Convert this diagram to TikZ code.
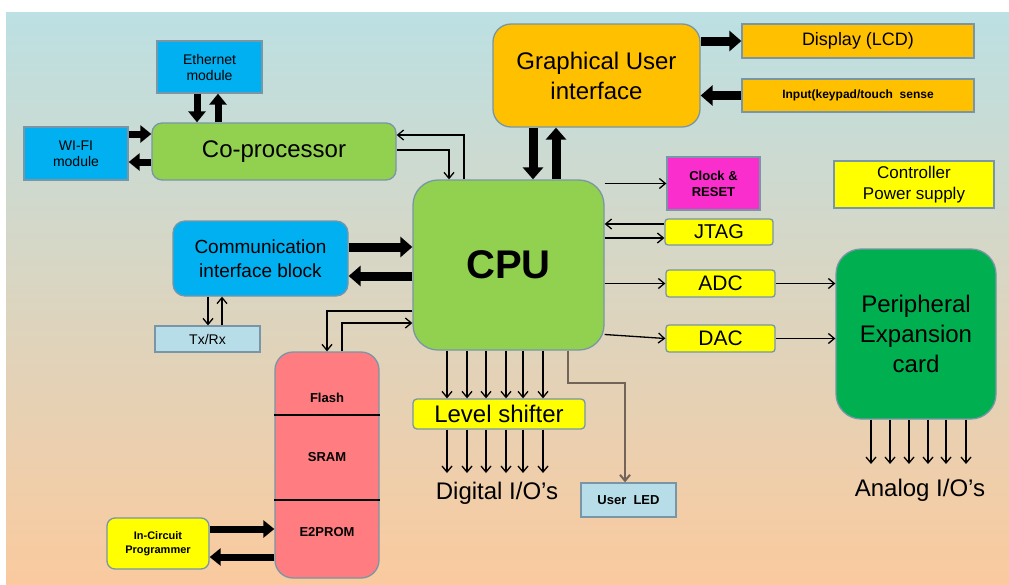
\documentclass[tikz,border=0pt]{standalone}
\usepackage{fontspec}
\setmainfont{Liberation Sans}
\usetikzlibrary{arrows.meta,calc}
\definecolor{bgtop}{RGB}{188,224,227}
\definecolor{bgmid}{RGB}{220,218,204}
\definecolor{bgbot}{RGB}{250,202,158}
\definecolor{bord}{RGB}{120,150,165}
\definecolor{cblue}{RGB}{0,176,240}
\definecolor{cgreen}{RGB}{146,208,80}
\definecolor{dgreen}{RGB}{0,176,80}
\definecolor{corange}{RGB}{255,192,0}
\definecolor{cyellow}{RGB}{255,255,0}
\definecolor{cmag}{RGB}{250,45,205}
\definecolor{cpink}{RGB}{255,124,128}
\definecolor{lblue}{RGB}{183,222,232}
\definecolor{ledline}{RGB}{115,100,90}
\newcommand\fsz[2]{\fontsize{#1pt}{#2pt}\selectfont}
\tikzset{
  box/.style={draw=bord, line width=1.3pt, align=center, inner sep=0pt, text=black},
  bigarrow/.style={line width=7pt, -{Triangle[length=11pt,width=17pt]}},
  hugearrow/.style={line width=9pt, -{Triangle[length=12pt,width=20pt]}},
  thinarrow/.style={line width=1.3pt, -{Straight Barb[length=6pt,width=10pt]}},
  lbl/.style={inner sep=0pt, text=black}
}
\begin{document}
\begin{tikzpicture}[x=1pt,y=-1pt]
\useasboundingbox (0,0) rectangle (1009,584);
\shade[top color=bgtop, middle color=bgmid, bottom color=bgbot] (6,12) rectangle (1009,584);

% nodes
\node[box, fill=cblue, minimum width=105pt, minimum height=52pt, font=\fsz{14}{16}] (eth) at (209.5,67) {Ethernet\\module};
\node[box, fill=cblue, minimum width=104pt, minimum height=53pt, font=\fsz{14}{16}] (wifi) at (76,153.5) {WI-FI\\module};
\node[box, fill=cgreen, rounded corners=10pt, minimum width=244pt, minimum height=57pt, font=\fsz{24}{28}] (cop) at (274,151.5) {Co-processor};
\node[box, fill=corange, rounded corners=18pt, minimum width=207pt, minimum height=103pt, font=\fsz{24}{30}] (gui) at (596.5,75.5) {Graphical User\\interface};
\node[box, fill=corange, minimum width=232pt, minimum height=34pt, font=\fsz{18}{20}] (lcd) at (858,41) {Display (LCD)};
\node[box, fill=corange, minimum width=232pt, minimum height=33pt, font=\fsz{12}{14}\bfseries] (inp) at (858,95.5) {Input(keypad/touch\ \ sense};
\node[box, fill=cgreen, rounded corners=25pt, minimum width=191pt, minimum height=170pt, font=\fsz{40}{44}\bfseries] (cpu) at (508.5,265) {CPU};
\node[box, fill=cmag, minimum width=93pt, minimum height=53pt, font=\fsz{13}{16}\bfseries] (clk) at (713.5,183.5) {Clock \&\\RESET};
\node[box, fill=cyellow, rounded corners=3pt, minimum width=108pt, minimum height=26pt, font=\fsz{20}{22}] (jtag) at (719,232) {JTAG};
\node[box, fill=cyellow, minimum width=160pt, minimum height=47pt, font=\fsz{17}{21}] (pwr) at (914,184.5) {Controller\\Power supply};
\node[box, fill=cyellow, rounded corners=3pt, minimum width=109pt, minimum height=27pt, font=\fsz{21}{23}] (adc) at (720.5,283.5) {ADC};
\node[box, fill=cyellow, rounded corners=3pt, minimum width=109pt, minimum height=27pt, font=\fsz{21}{23}] (dac) at (720.5,338.5) {DAC};
\node[box, fill=dgreen, rounded corners=25pt, minimum width=160pt, minimum height=170pt, font=\fsz{24}{30}] (per) at (916,334) {Peripheral\\Expansion\\card};
\node[box, fill=cblue, rounded corners=12pt, minimum width=175pt, minimum height=75pt, font=\fsz{19}{24}] (com) at (260.5,258.5) {Communication\\interface block};
\node[box, fill=lblue, minimum width=105pt, minimum height=26pt, font=\fsz{14}{16}] (txrx) at (207.5,339) {Tx/Rx};
\node[box, fill=cpink, rounded corners=18pt, minimum width=104pt, minimum height=226pt] (mem) at (327,465) {};
\draw[line width=1.8pt] (mem.west |- 0,415) -- (mem.east |- 0,415);
\draw[line width=1.8pt] (mem.west |- 0,500) -- (mem.east |- 0,500);
\node[lbl, font=\fsz{13}{15}\bfseries] (flash) at (327,398) {Flash};
\node[lbl, font=\fsz{13}{15}\bfseries] (sram) at (327,457) {SRAM};
\node[lbl, font=\fsz{13}{15}\bfseries] (eprom) at (327,532) {E2PROM};
\node[box, fill=cyellow, rounded corners=8pt, minimum width=102pt, minimum height=51pt, font=\fsz{11}{14}\bfseries] (icp) at (158,543.5) {In-Circuit\\Programmer};
\node[box, fill=cyellow, rounded corners=4pt, minimum width=172pt, minimum height=30pt, font=\fsz{24}{26}] (lvl) at (499,414) {Level shifter};
\node[box, fill=lblue, minimum width=95pt, minimum height=34pt, font=\fsz{13}{15}\bfseries] (led) at (628.5,500) {User\ \ LED};
\node[lbl, font=\fsz{24}{26}] (dig) at (497,493) {Digital I/O’s};
\node[lbl, font=\fsz{24}{26}] (ana) at (920,490) {Analog I/O’s};
\coordinate (dio) at (497,473);
\coordinate (aio) at (920,464);

% thick connectors
\draw[bigarrow] ([xshift=-12.5pt]eth.south) -- ([xshift=-12.5pt]eth.south |- cop.north);
\draw[bigarrow] ([xshift=8.5pt]eth.south |- cop.north) -- ([xshift=8.5pt]eth.south);
\draw[bigarrow] ([yshift=19.5pt]wifi.east) -- ([yshift=19.5pt]wifi.east -| cop.west);
\draw[bigarrow] ([yshift=-8.5pt]wifi.east -| cop.west) -- ([yshift=-8.5pt]wifi.east);
\draw[hugearrow] (gui.east |- lcd.west) -- (lcd.west);
\draw[hugearrow] (inp.west) -- (inp.west -| gui.east);
\draw[hugearrow] ([xshift=-63.5pt]gui.south) -- ([xshift=-63.5pt]gui.south |- cpu.north);
\draw[hugearrow] ([xshift=-40.5pt]gui.south |- cpu.north) -- ([xshift=-40.5pt]gui.south);
\draw[hugearrow] ([yshift=11.5pt]com.east) -- ([yshift=11.5pt]com.east -| cpu.west);
\draw[hugearrow] ([yshift=-17.5pt]com.east -| cpu.west) -- ([yshift=-17.5pt]com.east);
\draw[bigarrow] ([yshift=14.5pt]icp.east) -- ([yshift=14.5pt]icp.east -| mem.west);
\draw[bigarrow] ([yshift=-13.5pt]icp.east -| mem.west) -- ([yshift=-13.5pt]icp.east);

% thin connectors
\draw[thinarrow] ([xshift=-44.5pt]cpu.north) |- ([yshift=16.5pt]cop.east);
\draw[thinarrow] ([yshift=1.5pt]cop.east) -| ([xshift=-59.5pt]cpu.north);
\draw[thinarrow] (cpu.east |- clk.west) -- (clk.west);
\draw[thinarrow] ([yshift=8pt]jtag.west) -- ([yshift=8pt]jtag.west -| cpu.east);
\draw[thinarrow] ([yshift=-6pt]jtag.west -| cpu.east) -- ([yshift=-6pt]jtag.west);
\draw[thinarrow] (cpu.east |- adc.west) -- (adc.west);
\draw[thinarrow] (adc.east) -- (adc.east -| per.west);
\draw[thinarrow] ([yshift=4pt]cpu.east |- dac.west) -- (dac.west);
\draw[thinarrow] (dac.east) -- (dac.east -| per.west);
\draw[thinarrow] ([xshift=-52.5pt]com.south) -- ([xshift=-52.5pt]com.south |- txrx.north);
\draw[thinarrow] ([xshift=-38.5pt]com.south |- txrx.north) -- ([xshift=-38.5pt]com.south);
\draw[thinarrow] ([yshift=-46pt]cpu.west) -| (mem.north);
\draw[thinarrow] ([xshift=15pt]mem.north) |- ([yshift=-58pt]cpu.west);
\foreach \d in {-52,-32,-13,7,24,44}{
  \draw[thinarrow] ([xshift=\d pt]lvl.north |- cpu.south) -- ([xshift=\d pt]lvl.north);
  \draw[thinarrow] ([xshift=\d pt]lvl.south) -- ([xshift=\d pt]lvl.south |- dio);
}
\foreach \d in {-45,-26,-7,12,30,50}{
  \draw[thinarrow] ([xshift=\d pt]per.south) -- ([xshift=\d pt]per.south |- aio);
}
\draw[thinarrow, draw=ledline, line width=2pt] ([xshift=59.5pt]cpu.south) -- ++(0,32) -| ([xshift=-3.5pt]led.north);
\end{tikzpicture}
\end{document}
